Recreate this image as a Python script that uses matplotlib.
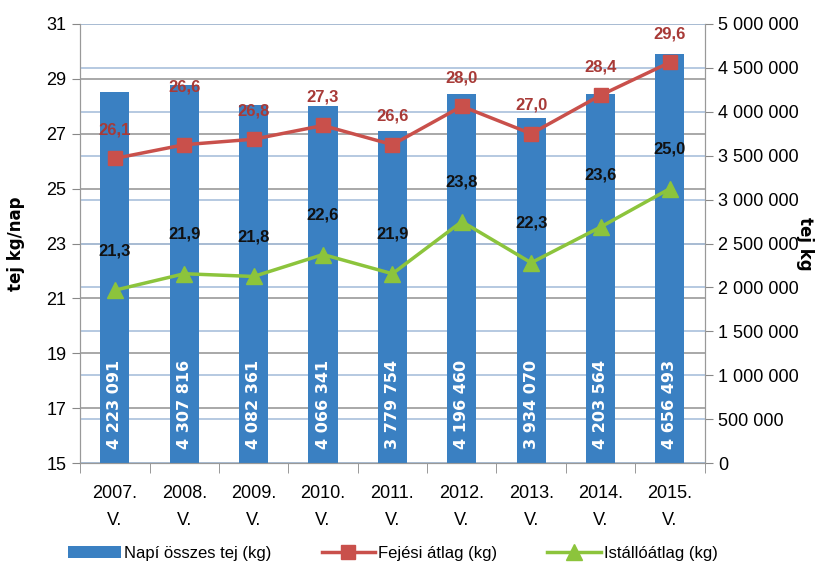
import matplotlib
matplotlib.use('Agg')
import matplotlib.pyplot as plt
import numpy as np

plt.rcParams['font.family'] = ['Liberation Sans', 'DejaVu Sans']

years = ['2007.', '2008.', '2009.', '2010.', '2011.', '2012.', '2013.', '2014.', '2015.']
napi_osszes = [4223091, 4307816, 4082361, 4066341, 3779754, 4196460, 3934070, 4203564, 4656493]
fejesi_atlag = [26.1, 26.6, 26.8, 27.3, 26.6, 28.0, 27.0, 28.4, 29.6]
istallo_atlag = [21.3, 21.9, 21.8, 22.6, 21.9, 23.8, 22.3, 23.6, 25.0]

bar_col = '#3A80C2'
red_col = '#C9504B'
green_col = '#8CC43C'

def hu_num(v):
    return '{:,}'.format(v).replace(',', ' ')

def hu_dec(v):
    return '{:.1f}'.format(v).replace('.', ',')

fig = plt.figure(figsize=(8.27, 5.69), dpi=100)
ax1 = fig.add_axes([0.097, 0.186, 0.755, 0.772])
ax2 = ax1.twinx()
ax3 = ax1.twinx()

x = np.arange(len(years))

# left scale grid (gray)
ax1.set_ylim(15, 31)
ax1.set_yticks(range(15, 32, 2))
ax1.yaxis.grid(True, color='#9A9A9A', lw=1.2)
ax1.set_axisbelow(True)
ax1.set_xlim(-0.5, len(years) - 0.5)
ax1.set_xticks(x)
ax1.set_xticklabels([y + '\nV.' for y in years], fontsize=13, linespacing=1.75)
ax1.set_xticks(np.arange(-0.5, len(years)), minor=True)
ax1.tick_params(axis='x', which='major', length=0, pad=16)
ax1.tick_params(axis='x', which='minor', length=7, color='#888888')
ax1.tick_params(axis='y', labelsize=13, length=6, color='#888888', pad=4)
ax1.set_ylabel('tej kg/nap', fontsize=12, fontweight='bold', family=['DejaVu Sans'])
ax1.yaxis.set_label_coords(-0.088, 0.5)

# bars on right scale
ax2.set_ylim(0, 5000000)
ax2.set_yticks(range(0, 5000001, 500000))
ax2.set_yticklabels([hu_num(v) for v in range(0, 5000001, 500000)], fontsize=13)
ax2.yaxis.grid(True, color='#A9C0DC', lw=1.2)
ax2.set_axisbelow(True)
bars = ax2.bar(x, napi_osszes, width=0.42, color=bar_col, label='Napí összes tej (kg)', zorder=2)
for xi, v in zip(x, napi_osszes):
    ax2.annotate(hu_num(v), (xi, 0), xytext=(0, 10), textcoords='offset points',
                 rotation=90, ha='center', va='bottom', color='white',
                 fontsize=11.5, fontweight='bold', family=['DejaVu Sans'])
ax2.tick_params(axis='y', length=6, color='#888888', pad=4)
ax2.set_ylabel('tej kg', fontsize=12, fontweight='bold', rotation=270, family=['DejaVu Sans'])
ax2.yaxis.set_label_coords(1.175, 0.5)

# lines on left scale, drawn on top
ax3.set_ylim(15, 31)
ax3.set_yticks([])
ax3.axis('off')
l1, = ax3.plot(x, fejesi_atlag, color=red_col, lw=2.5, marker='s', ms=10,
               label='Fejési átlag (kg)')
l2, = ax3.plot(x, istallo_atlag, color=green_col, lw=2.5, marker='^', ms=11,
               label='Istállóátlag (kg)')
for xi, v in zip(x, fejesi_atlag):
    off = 36 if xi == 1 else 15
    ax3.annotate(hu_dec(v), (xi, v), xytext=(0, off), textcoords='offset points',
                 ha='center', va='bottom', color='#A83A37', fontsize=12, fontweight='bold')
for xi, v in zip(x, istallo_atlag):
    off = 32 if xi == 7 else 23
    ax3.annotate(hu_dec(v), (xi, v), xytext=(0, off), textcoords='offset points',
                 ha='center', va='bottom', color='#111111', fontsize=12, fontweight='bold')

for ax in (ax1, ax2):
    ax.spines['top'].set_visible(False)
    for s in ('left', 'right', 'bottom'):
        ax.spines[s].set_color('#999999')

fig.legend(handles=[bars, l1, l2], loc='lower center', bbox_to_anchor=(0.475, -0.012),
           ncol=3, frameon=False, fontsize=12, handlelength=3.2, columnspacing=3.0,
           handletextpad=0.2)

fig.savefig('out.png', dpi=100)
